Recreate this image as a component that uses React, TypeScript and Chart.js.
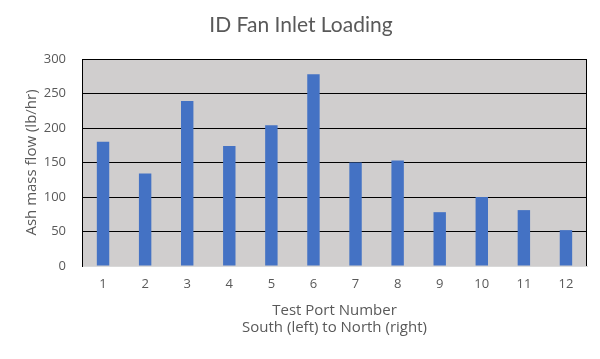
import React, { useEffect, useRef } from "react";
import { Chart, registerables } from "chart.js";

Chart.register(...registerables);

const categories = ["1", "2", "3", "4", "5", "6", "7", "8", "9", "10", "11", "12"];
const ashFlow = [180, 134, 239, 174, 204, 278, 150, 153, 78, 100, 81, 52];
const yTicks = [0, 50, 100, 150, 200, 250, 300];
const chartTitle = "ID Fan Inlet Loading";
const xTitle = ["Test Port Number", "South (left) to North (right)"];
const yTitle = "Ash mass flow (lb/hr)";

const TITLE_FONT = "Lato, 'Open Sans', sans-serif";
const AXIS_FONT = "'Open Sans', Lato, sans-serif";
const TEXT = "#595959";

const plotFrame = {
  id: "plotFrame",
  beforeDraw(chart: any) {
    const { ctx, chartArea: a } = chart;
    ctx.save();
    ctx.fillStyle = "#ffffff";
    ctx.fillRect(0, 0, chart.width, chart.height);
    ctx.fillStyle = "#D0CECE";
    ctx.fillRect(a.left, a.top, a.right - a.left, a.bottom - a.top);
    ctx.restore();
  },
  beforeDatasetsDraw(chart: any) {
    const { ctx, chartArea: a } = chart;
    ctx.save();
    ctx.strokeStyle = "#000000";
    ctx.lineWidth = 1;
    ctx.beginPath();
    ctx.moveTo(Math.round(a.right) - 0.5, a.top);
    ctx.lineTo(Math.round(a.right) - 0.5, a.bottom);
    ctx.stroke();
    ctx.restore();
  },
  afterDraw(chart: any) {
    const { ctx } = chart;
    ctx.save();
    ctx.fillStyle = TEXT;
    ctx.font = `21px ${TITLE_FONT}`;
    ctx.textAlign = "center";
    ctx.textBaseline = "alphabetic";
    ctx.fillText(chartTitle, 301, 32);
    ctx.restore();
  },
};

export default function App() {
  const ref = useRef<HTMLCanvasElement | null>(null);
  useEffect(() => {
    if (!ref.current) return;
    const chart = new Chart(ref.current, {
      type: "bar",
      data: {
        labels: categories,
        datasets: [
          {
            data: ashFlow,
            backgroundColor: "#4472C4",
            borderWidth: 0,
            categoryPercentage: 1,
            barPercentage: 0.295,
          },
        ],
      },
      options: {
        animation: false,
        responsive: false,
        maintainAspectRatio: false,
        layout: { padding: { left: 0, right: 13, top: 59, bottom: 0 } },
        plugins: {
          legend: { display: false },
          tooltip: { enabled: false },
          title: { display: false },
        },
        scales: {
          x: {
            grid: { display: false, drawTicks: false },
            border: { display: true, color: "#D9D9D9" },
            ticks: { color: TEXT, font: { family: AXIS_FONT, size: 13 }, padding: 10 },
            title: {
              display: true,
              text: xTitle,
              color: TEXT,
              font: { family: AXIS_FONT, size: 15, lineHeight: 1.133 },
              padding: { top: 4, bottom: 23 },
            },
            afterFit(scale: any) {
              scale.height = 93;
            },
          },
          y: {
            min: 0,
            max: 300,
            afterBuildTicks(scale: any) {
              scale.ticks = yTicks.map((v) => ({ value: v }));
            },
            grid: {
              drawTicks: false,
              color: (c: any) => (c.tick && c.tick.value === 0 ? "#D9D9D9" : "#000000"),
              lineWidth: 1,
            },
            border: { display: true, color: "#000000" },
            ticks: { color: TEXT, font: { family: AXIS_FONT, size: 13 }, padding: 16 },
            title: {
              display: true,
              text: yTitle,
              color: TEXT,
              font: { family: AXIS_FONT, size: 15 },
              padding: { top: 23, bottom: 0 },
            },
            afterFit(scale: any) {
              scale.width = 82;
            },
          },
        },
      },
      plugins: [plotFrame],
    });
    return () => chart.destroy();
  }, []);
  return (
    <div style={{ position: "absolute", left: 0, top: 0, width: 600, height: 359 }}>
      <canvas ref={ref} width={600} height={359} />
    </div>
  );
}
